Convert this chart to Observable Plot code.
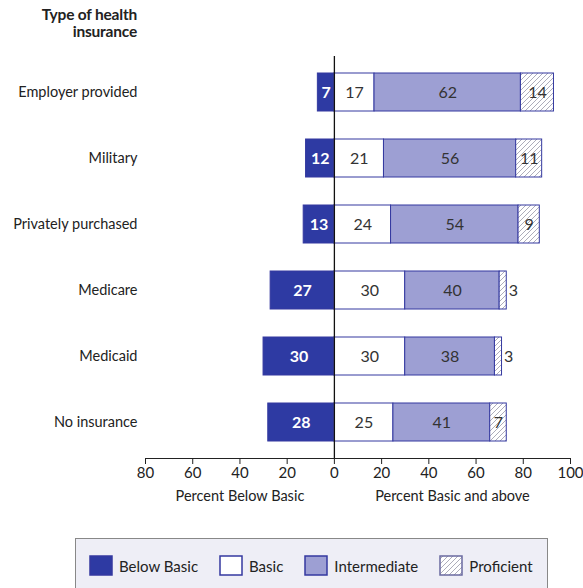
<!DOCTYPE html>
<html><head><meta charset="utf-8">
<script src="https://cdn.jsdelivr.net/npm/d3@7"></script>
<script src="https://cdn.jsdelivr.net/npm/@observablehq/plot@0.6"></script>
<style>
body{margin:0;background:#fff;font-family:Lato,"Liberation Sans",sans-serif;color:#222;}
#wrap{width:583px;position:relative;}
#title{height:56px;}
#title div{width:137px;text-align:right;padding-top:6px;font-weight:bold;font-size:15.5px;line-height:17px;color:#222;letter-spacing:-0.2px;}
#legend{margin:10px 0 0 75px;width:473px;height:60px;box-sizing:border-box;border:1px solid #888;background:#eeeef6;display:flex;align-items:flex-start;padding:16px 0 0 13px;font-size:15px;color:#222;white-space:nowrap;}
.item{display:flex;align-items:center;margin-right:21px;height:21px}
.item svg{margin-right:6px;display:block;flex:none}
</style></head><body>
<div id="wrap"><div id="title"><div>Type of health<br>insurance</div></div><div id="chart"></div><div id="legend"></div></div>
<script>
const categories = ["Employer provided","Military","Privately purchased","Medicare","Medicaid","No insurance"];
const belowBasic = [7,12,13,27,30,28];
const basic = [17,21,24,30,30,25];
const intermediate = [62,56,54,40,38,41];
const proficient = [14,11,9,3,3,7];
const levels = ["Below Basic","Basic","Intermediate","Proficient"];
const xTicks = [-80,-60,-40,-20,0,20,40,60,80,100];
const axisTitles = ["Percent Below Basic","Percent Basic and above"];

const dark = "#2e3aa3", lav = "#9d9fd3", edge = "#3439a0";
const fills = [dark, "#ffffff", lav, "url(#hatch)"];

const rows = [];
categories.forEach((c, i) => {
  rows.push({category: c, level: "Below Basic", value: belowBasic[i], x1: -belowBasic[i], x2: 0});
  let s = 0;
  [["Basic", basic], ["Intermediate", intermediate], ["Proficient", proficient]].forEach(([l, arr]) => {
    rows.push({category: c, level: l, value: arr[i], x1: s, x2: s + arr[i]});
    s += arr[i];
  });
});
const insideLow = rows.filter(d => d.level === "Below Basic");
const insideOther = rows.filter(d => d.level !== "Below Basic" && d.value >= 5);
const outside = rows.filter(d => d.level !== "Below Basic" && d.value < 5);
const domain = [xTicks[0], xTicks[xTicks.length - 1]];
const titleRows = [
  {label: axisTitles[0], x: (domain[0] + 0) / 2},
  {label: axisTitles[1], x: (0 + domain[1]) / 2}
];

const fontFamily = 'Lato,"Liberation Sans",sans-serif';
const plot = Plot.plot({
  width: 583,
  height: 472,
  marginTop: 0,
  marginBottom: 70,
  marginLeft: 145,
  marginRight: 13,
  style: {fontFamily, fontSize: "14px", color: "#222", background: "white"},
  x: {domain, label: null},
  y: {domain: categories, paddingInner: 0.43, paddingOuter: 0.225, label: null},
  color: {domain: levels, range: fills},
  marks: [
    Plot.barX(rows, {x1: "x1", x2: "x2", y: "category", fill: "level", stroke: edge, strokeWidth: 1}),
    Plot.ruleX([0], {stroke: "#111", strokeWidth: 1.3}),
    Plot.frame({anchor: "bottom", stroke: "#222"}),
    Plot.axisY({tickSize: 0, tickPadding: 8, fontSize: 14.5, label: null}),
    Plot.axisX({ticks: xTicks, tickFormat: d => Math.abs(d), tickSize: 6, tickPadding: 3, fontSize: 15, label: null}),
    Plot.text(insideLow, {x: d => (d.x1 + d.x2) / 2, y: "category", text: d => String(d.value), fill: "white", fontWeight: "bold", fontSize: 16}),
    Plot.text(insideOther, {x: d => (d.x1 + d.x2) / 2, y: "category", text: d => String(d.value), fill: "#333", fontSize: 16}),
    Plot.text(outside, {x: "x2", y: "category", text: d => String(d.value), fill: "#333", fontSize: 16, textAnchor: "start", dx: 2}),
    Plot.text(titleRows, {x: "x", frameAnchor: "bottom", text: "label", dy: 42, fontSize: 14.5, fill: "#222"})
  ]
});
d3.select(plot).insert("defs", ":first-child").html(
  '<pattern id="hatch" patternUnits="userSpaceOnUse" width="5" height="5">' +
  '<rect width="5" height="5" fill="white"/>' +
  '<path d="M-1,1 l2,-2 M0,5 l5,-5 M4,6 l2,-2" stroke="#a4a4b2" stroke-width="0.9"/></pattern>');
document.getElementById("chart").appendChild(plot);

const legend = d3.select("#legend");
levels.forEach((l, i) => {
  const item = legend.append("div").attr("class", "item");
  const sw = item.append("svg").attr("width", 24).attr("height", 21);
  sw.append("rect").attr("x", 1).attr("y", 1).attr("width", 22).attr("height", 19)
    .attr("fill", fills[i]).attr("stroke", i === 3 ? "#6a6aa0" : edge).attr("stroke-width", 1.5);
  item.append("span").text(l);
});
</script>
</body></html>
